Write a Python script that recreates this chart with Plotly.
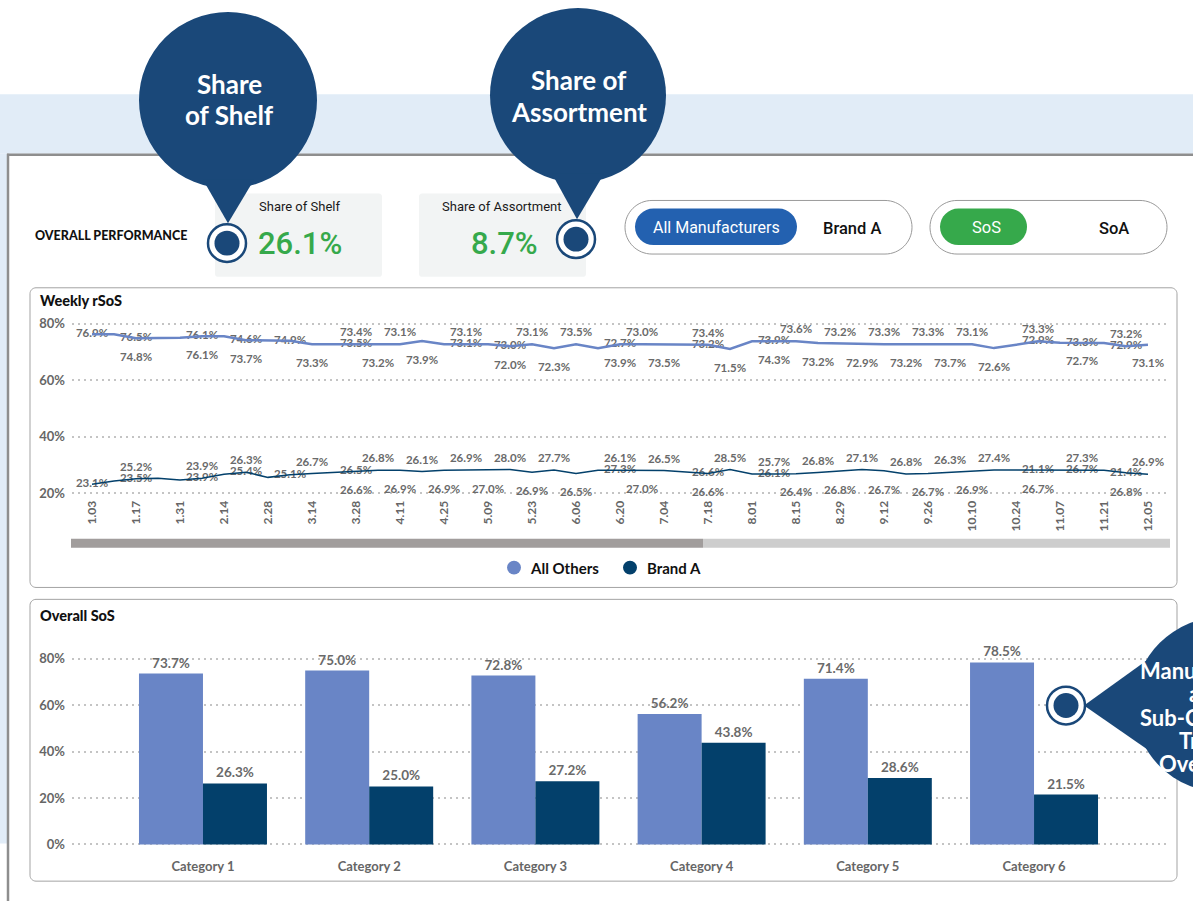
import plotly.graph_objects as go

W, H = 1193, 905

# ---------------- data ----------------
week_labels = ["1.03", "1.10", "1.17", "1.24", "1.31", "2.07", "2.14", "2.21", "2.28", "3.07", "3.14", "3.21", "3.28",
               "4.04", "4.11", "4.18", "4.25", "5.02", "5.09", "5.16", "5.23", "5.30", "6.06", "6.13", "6.20", "6.27",
               "7.04", "7.11", "7.18", "7.25", "8.01", "8.08", "8.15", "8.22", "8.29", "9.05", "9.12", "9.19", "9.26",
               "10.03", "10.10", "10.17", "10.24", "10.31", "11.07", "11.14", "11.21", "11.28", "12.05"]

others_weekly = [76.2, 76.2, 74.8, 74.8, 75.0, 75.5, 75.5, 74.1, 74.1, 73.9,
                 72.7, 72.7, 72.7, 72.7, 72.7, 73.8, 72.7, 72.7, 72.7, 72.0,
                 72.7, 71.3, 72.7, 71.3, 72.7, 72.7, 72.7, 72.7, 72.5, 71.0,
                 73.7, 73.7, 73.7, 73.1, 72.9, 72.7, 72.7, 72.7, 72.7, 72.7,
                 72.7, 71.3, 72.4, 73.7, 73.2, 73.2, 73.1, 72.0, 72.5]
brand_weekly = [23.2, 24.3, 25.1, 25.3, 24.7, 25.3, 26.7, 27.4, 25.6, 26.5,
                27.0, 27.4, 27.7, 28.1, 28.1, 27.7, 28.1, 28.2, 28.1, 28.4,
                27.4, 28.2, 27.0, 28.1, 28.1, 28.0, 28.0, 27.5, 27.0, 28.4,
                26.8, 26.8, 26.9, 27.3, 27.8, 28.4, 27.9, 26.8, 27.0, 27.4,
                27.7, 28.2, 28.2, 28.2, 28.2, 28.2, 28.1, 27.2, 26.7]

# data labels shown on the weekly chart (week index -> label value)
others_lbl_above = {12: 73.4, 14: 73.1, 17: 73.1, 20: 73.1, 22: 73.5, 25: 73.0, 28: 73.4, 32: 73.6,
                    34: 73.2, 36: 73.3, 38: 73.3, 40: 73.1, 43: 73.3, 47: 73.2}
others_lbl_on = {0: 76.9, 2: 76.5, 5: 76.1, 7: 74.6, 9: 74.9, 12: 73.5, 17: 73.1, 19: 73.0, 24: 72.7,
                 28: 73.2, 31: 73.9, 43: 72.9, 45: 73.3, 47: 72.9}
others_lbl_below = {2: 74.8, 5: 76.1, 7: 73.7, 10: 73.3, 13: 73.2, 15: 73.9, 19: 72.0, 21: 72.3, 24: 73.9,
                    26: 73.5, 29: 71.5, 31: 74.3, 33: 73.2, 35: 72.9, 37: 73.2, 39: 73.7, 41: 72.6, 45: 72.7, 48: 73.1}
brand_lbl_above = {2: 25.2, 5: 23.9, 7: 26.3, 10: 26.7, 13: 26.8, 15: 26.1, 17: 26.9, 19: 28.0, 21: 27.7,
                   24: 26.1, 26: 26.5, 29: 28.5, 31: 25.7, 33: 26.8, 35: 27.1, 37: 26.8, 39: 26.3, 41: 27.4,
                   45: 27.3, 48: 26.9}
brand_lbl_on = {0: 23.1, 2: 23.5, 5: 23.9, 7: 25.4, 9: 25.1, 12: 26.5, 24: 27.3, 28: 26.6, 31: 26.1,
                43: 21.1, 45: 26.7, 47: 21.4}
brand_lbl_below = {12: 26.6, 14: 26.9, 16: 26.9, 18: 27.0, 20: 26.9, 22: 26.5, 25: 27.0, 28: 26.6, 32: 26.4,
                   34: 26.8, 36: 26.7, 38: 26.7, 40: 26.9, 43: 26.7, 47: 26.8}

y_ticks = [20, 40, 60, 80]
bar_y_ticks = [0, 20, 40, 60, 80]

categories = ["Category 1", "Category 2", "Category 3", "Category 4", "Category 5", "Category 6"]
others_sos = [73.7, 75.0, 72.8, 56.2, 71.4, 78.5]
brand_sos = [26.3, 25.0, 27.2, 43.8, 28.6, 21.5]

kpi_sos = "26.1%"
kpi_soa = "8.7%"
series_names = ["All Others", "Brand A"]

# ---------------- styles ----------------
C_LIGHT = "#6985c6"
C_DARK = "#03406b"
C_CALLOUT = "#1a4879"
C_GREEN = "#36a94b"
C_BLUE_PILL = "#2361b0"
C_BAND = "#e1ecf7"
C_LBL = "#6a6a6a"
FONT = "Lato"
NARROW = "Roboto, sans-serif"


def P(x, y):
    return f"{x / W:.5f},{1 - y / H:.5f}"


def rrect(x0, y0, x1, y1, r, fill=None, line=None, lw=1, layer="below"):
    c = 0.5523 * r
    path = (f"M{P(x0 + r, y0)} L{P(x1 - r, y0)} "
            f"C{P(x1 - r + c, y0)} {P(x1, y0 + r - c)} {P(x1, y0 + r)} "
            f"L{P(x1, y1 - r)} C{P(x1, y1 - r + c)} {P(x1 - r + c, y1)} {P(x1 - r, y1)} "
            f"L{P(x0 + r, y1)} C{P(x0 + r - c, y1)} {P(x0, y1 - r + c)} {P(x0, y1 - r)} "
            f"L{P(x0, y0 + r)} C{P(x0, y0 + r - c)} {P(x0 + r - c, y0)} {P(x0 + r, y0)} Z")
    return dict(type="path", xref="paper", yref="paper", path=path, layer=layer,
                fillcolor=fill if fill else "rgba(0,0,0,0)",
                line=dict(color=line if line else "rgba(0,0,0,0)", width=lw if line else 0))


def rect(x0, y0, x1, y1, fill, layer="below"):
    return dict(type="rect", xref="paper", yref="paper", x0=x0 / W, x1=x1 / W, y0=1 - y1 / H, y1=1 - y0 / H,
                fillcolor=fill, line=dict(width=0), layer=layer)


def hline(x0, x1, y, color, w):
    return dict(type="line", xref="paper", yref="paper", x0=x0 / W, x1=x1 / W, y0=1 - y / H, y1=1 - y / H,
                line=dict(color=color, width=w), layer="below")


def vline(x, y0, y1, color, w):
    return dict(type="line", xref="paper", yref="paper", x0=x / W, x1=x / W, y0=1 - y0 / H, y1=1 - y1 / H,
                line=dict(color=color, width=w), layer="below")


def circle(cx, cy, r, fill, line=None, lw=0, layer="above"):
    return dict(type="circle", xref="paper", yref="paper", x0=(cx - r) / W, x1=(cx + r) / W,
                y0=1 - (cy + r) / H, y1=1 - (cy - r) / H, fillcolor=fill,
                line=dict(color=line if line else fill, width=lw), layer=layer)


def poly(pts, fill, layer="above"):
    path = "M" + " L".join(P(x, y) for x, y in pts) + " Z"
    return dict(type="path", xref="paper", yref="paper", path=path, fillcolor=fill,
                line=dict(width=0), layer=layer)


def txt(x, y, s, size, color, weight="normal", family=FONT, xanchor="center"):
    return dict(x=x / W, y=1 - y / H, xref="paper", yref="paper", text=s, showarrow=False,
                font=dict(family=family, size=size, color=color, weight=weight),
                xanchor=xanchor, yanchor="middle")


shapes = []
annotations = []

# background band and outer panel
shapes.append(rect(0, 92, W, 152, C_BAND))
shapes.append(rect(0, 152, 8, 847, C_BAND))
shapes.append(rect(8, 153, W, H, "white"))
shapes.append(hline(7, W, 153, "#8e8e8e", 2.5))
shapes.append(vline(8, 152, H, "#8e8e8e", 2.5))

# KPI boxes
shapes.append(rrect(215, 192, 382, 276, 3, fill="#f2f4f4"))
shapes.append(rrect(419, 192, 586, 276, 3, fill="#f2f4f4"))
annotations.append(txt(33, 234, "OVERALL PERFORMANCE", 12.5, "#111111", weight=900, xanchor="left"))
annotations.append(txt(299, 205, "Share of Shelf", 13, "#1a1a1a", family=NARROW))
annotations.append(txt(300, 242, kpi_sos, 31, C_GREEN, weight=500, family=NARROW))
annotations.append(txt(502, 205, "Share of Assortment", 13, "#1a1a1a", family=NARROW))
annotations.append(txt(504, 242, kpi_soa, 31, C_GREEN, weight=500, family=NARROW))

# toggles
shapes.append(rrect(625, 199, 912, 253, 27, fill="white", line="#9a9a9a", lw=1))
shapes.append(rrect(635, 207, 797, 244, 18.5, fill=C_BLUE_PILL))
annotations.append(txt(716, 226, "All Manufacturers", 16, "white", family=NARROW))
annotations.append(txt(852, 227, "Brand A", 16.5, "#111111", weight=500, family=NARROW))
shapes.append(rrect(930, 199, 1167, 253, 27, fill="white", line="#9a9a9a", lw=1))
shapes.append(rrect(940, 207, 1027, 244, 18.5, fill=C_GREEN))
annotations.append(txt(986, 226, "SoS", 16.5, "white", family=NARROW))
annotations.append(txt(1114, 227, "SoA", 16.5, "#111111", weight=500, family=NARROW))

# chart panels
shapes.append(rrect(30, 287, 1177, 589, 6, fill="white", line="#a3a3a3", lw=1))
shapes.append(rrect(30, 601, 1177, 885, 6, fill="white", line="#a3a3a3", lw=1))
annotations.append(txt(38, 300, "Weekly rSoS", 14.5, "#111111", weight=900, xanchor="left"))
annotations.append(txt(38, 617, "Overall SoS", 14.5, "#111111", weight=900, xanchor="left"))

# scrollbar
shapes.append(rect(71, 540, 703, 549, "#a19d9c"))
shapes.append(rect(703, 540, 1170, 549, "#cdcdcd"))

# legend
shapes.append(circle(514, 569, 7, C_LIGHT, layer="below"))
shapes.append(circle(630, 569, 7, C_DARK, layer="below"))
annotations.append(txt(528, 569, series_names[0], 15, "#111111", weight="bold", xanchor="left"))
annotations.append(txt(645, 569, series_names[1], 15, "#111111", weight="bold", xanchor="left"))


# callouts
def ring(cx, cy):
    shapes.append(circle(cx, cy, 19, "white", line=C_CALLOUT, lw=2.5))
    shapes.append(circle(cx, cy, 12.5, C_CALLOUT))


shapes.append(circle(228, 98, 89, C_CALLOUT))
shapes.append(poly([(203, 178), (254, 178), (228, 222)], C_CALLOUT))
ring(227, 242)
annotations.append(txt(229, 82, "Share", 26, "white", weight="bold"))
annotations.append(txt(229, 113, "of Shelf", 26, "white", weight="bold"))

shapes.append(circle(578, 93, 88, C_CALLOUT))
shapes.append(poly([(552, 172), (604, 172), (577, 218)], C_CALLOUT))
ring(576, 238)
annotations.append(txt(579, 78, "Share of", 26, "white", weight="bold"))
annotations.append(txt(579, 110, "Assortment", 26, "white", weight="bold"))

shapes.append(circle(1222, 707, 88, C_CALLOUT))
shapes.append(poly([(1150, 660), (1150, 754), (1084, 708)], C_CALLOUT))
ring(1066, 708)
for i, s in enumerate(["Manufacturer", "and", "Sub-Category", "Trend", "Overview"]):
    annotations.append(txt(1207, 673 + i * 23.3, s, 22, "white", weight="bold"))

# ---------------- traces ----------------
fig = go.Figure()
weeks = list(range(len(week_labels)))

lbl_font = dict(family=FONT, size=11.5, color=C_LBL, weight="bold")


def label_trace(series, labels, pos, msize):
    ks = list(labels.keys())
    return go.Scatter(x=ks, y=[series[k] for k in ks], text=[f"{labels[k]:.1f}%" for k in ks],
                      mode="markers+text", marker=dict(size=msize, opacity=0), textposition=pos,
                      textfont=lbl_font, hoverinfo="skip", showlegend=False, cliponaxis=False,
                      xaxis="x", yaxis="y")


for series, lbls in [(others_weekly, (others_lbl_above, others_lbl_on, others_lbl_below)),
                     (brand_weekly, (brand_lbl_above, brand_lbl_on, brand_lbl_below))]:
    fig.add_trace(label_trace(series, lbls[0], "top center", 6.4))
    fig.add_trace(label_trace(series, lbls[1], "middle center", 1))
    fig.add_trace(label_trace(series, lbls[2], "bottom center", 21))

fig.add_trace(go.Scatter(x=weeks, y=others_weekly, mode="lines", name=series_names[0],
                         line=dict(color=C_LIGHT, width=2.5), showlegend=False, xaxis="x", yaxis="y"))
fig.add_trace(go.Scatter(x=weeks, y=brand_weekly, mode="lines", name=series_names[1],
                         line=dict(color=C_DARK, width=1.5), showlegend=False, xaxis="x", yaxis="y"))

bar_font = dict(family=FONT, size=13.5, color=C_LBL, weight="bold")
fig.add_trace(go.Bar(x=categories, y=others_sos, name=series_names[0], marker=dict(color=C_LIGHT, line=dict(width=0)),
                     text=[f"{v:.1f}%" for v in others_sos], textposition="outside", textfont=bar_font,
                     cliponaxis=False, showlegend=False, xaxis="x2", yaxis="y2"))
fig.add_trace(go.Bar(x=categories, y=brand_sos, name=series_names[1], marker=dict(color=C_DARK, line=dict(width=0)),
                     text=[f"{v:.1f}%" for v in brand_sos], textposition="outside", textfont=bar_font,
                     cliponaxis=False, showlegend=False, xaxis="x2", yaxis="y2"))

tick_font = dict(family=FONT, size=13, color="#666666", weight="bold")
grid = dict(showgrid=True, gridcolor="#c4c4c4", gridwidth=2, griddash="2px,4px", zeroline=False,
            showline=False, ticks="", ticklabelstandoff=6)

fig.update_layout(
    width=W, height=H, autosize=False,
    margin=dict(l=0, r=0, t=0, b=0),
    paper_bgcolor="white", plot_bgcolor="rgba(0,0,0,0)",
    font=dict(family=FONT),
    barmode="group", bargap=0.23, bargroupgap=0,
    xaxis=dict(domain=[72 / W, 1168 / W], range=[-0.91, 48.91], tickmode="array",
               tickvals=weeks[::2], ticktext=week_labels[::2], tickangle=-90, showgrid=False,
               zeroline=False, showline=False, ticks="",
               tickfont=dict(family=FONT, size=12, color="#666666", weight="bold"),
               anchor="y", fixedrange=True),
    yaxis=dict(domain=[1 - 498.3 / H, 1 - 317.3 / H], range=[18.5, 82], tickmode="array",
               tickvals=y_ticks, ticktext=[f"{v}%" for v in y_ticks], tickfont=tick_font,
               anchor="x", **grid),
    xaxis2=dict(domain=[72 / W, 1166 / W], range=[-0.788, 5.794], showgrid=False, zeroline=False,
                showline=False, ticks="", tickfont=tick_font, anchor="y2", ticklabelstandoff=9),
    yaxis2=dict(domain=[1 - 851.5 / H, 1 - 647 / H], range=[-1.5, 86], tickmode="array",
                tickvals=bar_y_ticks, ticktext=[f"{v}%" for v in bar_y_ticks], tickfont=tick_font,
                anchor="x2", **grid),
    shapes=shapes,
    annotations=annotations,
)

fig.write_html("out.html", config={"displayModeBar": False},
               post_script="document.body.style.margin='0px';document.body.style.overflow='hidden';")
